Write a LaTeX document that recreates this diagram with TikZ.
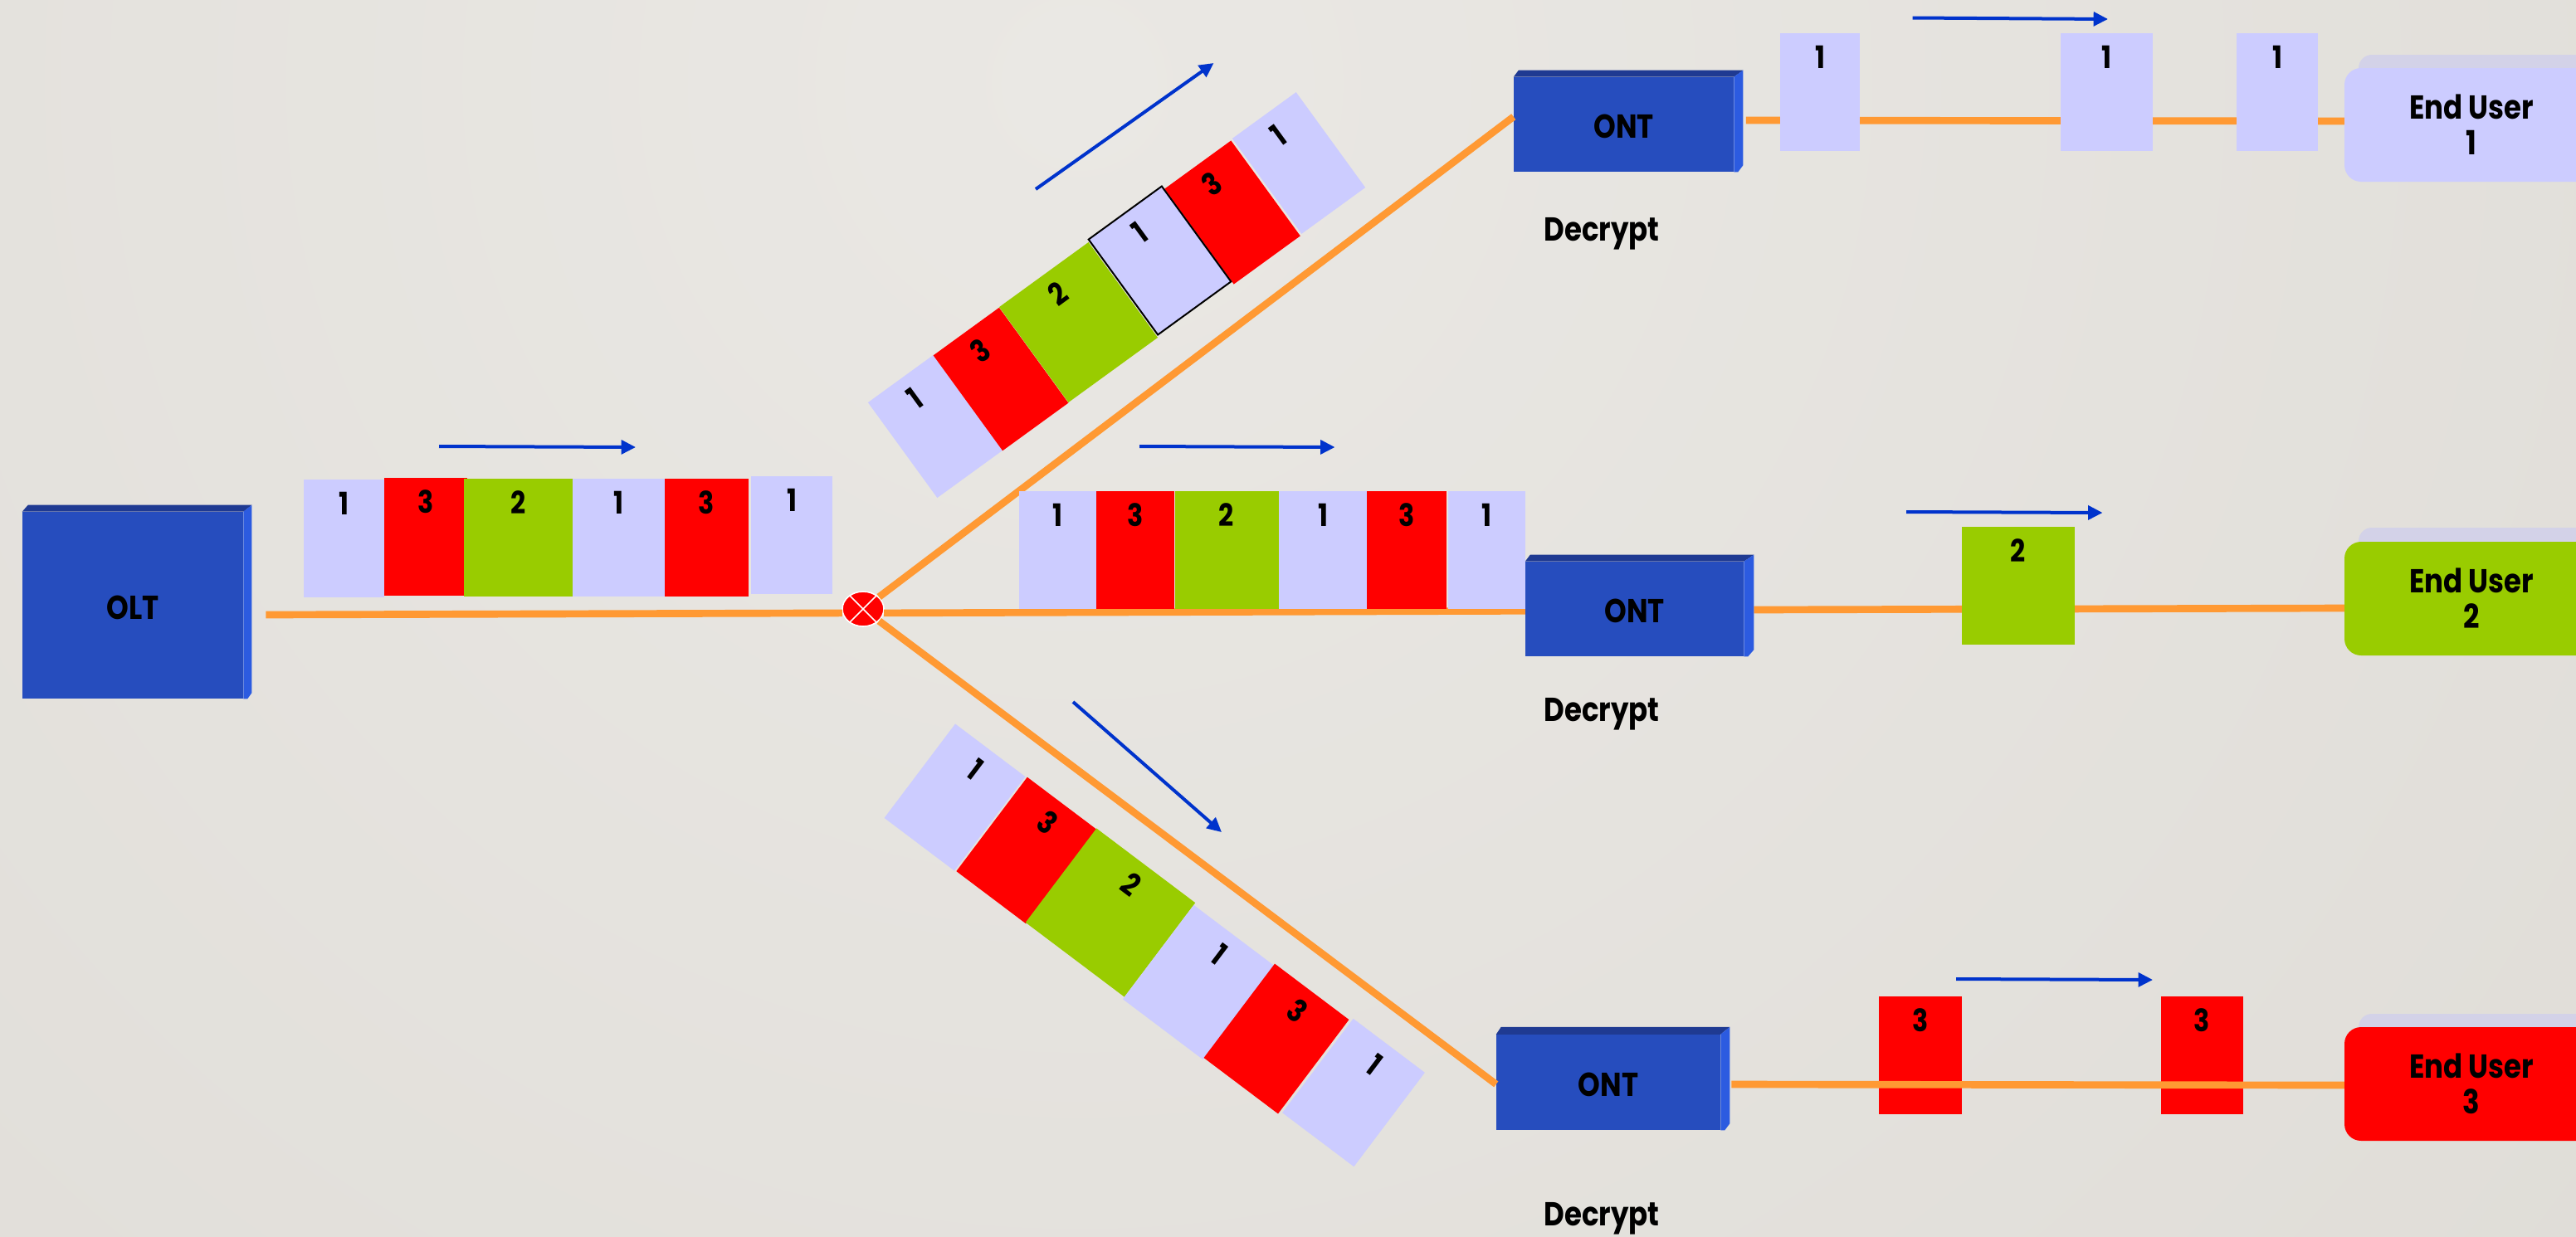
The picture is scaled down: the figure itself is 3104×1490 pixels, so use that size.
\documentclass[tikz,border=0pt]{standalone}
\usepackage{fontspec}
\setmainfont{Poppins}[FakeStretch=0.85]
\usetikzlibrary{arrows.meta,shapes.geometric}

\definecolor{bgin}{RGB}{234,232,228}
\definecolor{bgout}{RGB}{219,216,210}
\definecolor{pktlilac}{RGB}{204,204,255}
\definecolor{pktred}{RGB}{255,0,0}
\definecolor{pktgreen}{RGB}{153,204,0}
\definecolor{fibreorange}{RGB}{255,153,51}
\definecolor{dirblue}{RGB}{0,51,204}
\definecolor{boxfront}{RGB}{38,77,190}
\definecolor{boxtop}{RGB}{31,58,146}
\definecolor{boxside}{RGB}{44,91,224}
\definecolor{eutab}{RGB}{211,210,232}

\tikzset{
  pkt/.style={rectangle,inner sep=0pt,text height=32pt,text depth=74.5pt,font=\fontsize{28pt}{30pt}\selectfont\bfseries},
  pktl/.style={pkt,fill=pktlilac},
  pktr/.style={pkt,fill=pktred},
  pktg/.style={pkt,fill=pktgreen},
  netbox/.style={rectangle,inner sep=0pt,fill=boxfront,text height=25pt,text depth=0pt,font=\fontsize{30pt}{32pt}\selectfont\bfseries},
  facetop/.style={fill=boxtop},
  faceside/.style={fill=boxside},
  enduser/.style={rectangle,rounded corners=15pt,inner sep=0pt,minimum width=229.5pt,minimum height=102.75pt,align=center,font=\fontsize{30pt}{32.25pt}\selectfont\bfseries},
  capt/.style={inner sep=0pt,font=\fontsize{30pt}{32pt}\selectfont\bfseries},
  fibre/.style={draw=fibreorange,line width=6.5pt},
  dirarrow/.style={draw=dirblue,line width=3pt,-{Triangle[length=13pt,width=12.5pt]}},
}

\begin{document}
\begin{tikzpicture}[x=0.75pt,y=0.75pt,yscale=-1,xscale=1]
\useasboundingbox (0,0) rectangle (3104,1490);

%Background
\begin{scope}
\clip (0,0) rectangle (3104,1490);
\shade[inner color=bgin,outer color=bgout] (1300,100) circle (3400);
\end{scope}

%Shape: Boxes
\node (olt) at (160,729.5) [netbox,minimum width=199.5pt,minimum height=168.75pt] {OLT};
\node (ont1) at (1956.5,150) [netbox,minimum width=198.75pt,minimum height=85.5pt] {ONT};
\node (ont2) at (1969.5,734) [netbox,minimum width=197.25pt,minimum height=85.5pt] {ONT};
\node (ont3) at (1938,1304.5) [netbox,minimum width=202.5pt,minimum height=86.25pt] {ONT};
\node (split) at (1040,734) [ellipse,fill=pktred,draw=white,line width=1.2pt,inner sep=0pt,minimum width=37.5pt,minimum height=31.5pt] {};

%Shape: End users
\fill[eutab,rounded corners=12pt] (2842,66) rectangle (3200,130);
\fill[eutab,rounded corners=12pt] (2842,636) rectangle (3200,700);
\fill[eutab,rounded corners=12pt] (2842,1222) rectangle (3200,1280);
\node (eu1) at (2978,150.5) [enduser,fill=pktlilac] {End User\\1};
\node (eu2) at (2978,721.5) [enduser,fill=pktgreen] {End User\\2};
\node (eu3) at (2978,1306.5) [enduser,fill=pktred] {End User\\3};

%Straight Lines
\draw[fibre] ([shift={(27,11.5)}]olt.east) -- (split.191);
\draw[fibre] (split) -- (ont1.176);
\draw[fibre] (split.-11) -- (ont2.181);
\draw[fibre] (split) -- (ont3.181);
\draw[fibre] ([shift={(14.5,-5)}]ont1.east) -- ([shift={(0,-4.5)}]eu1.west);
\draw[fibre] ([shift={(12,1)}]ont2.east) -- ([shift={(0,11.5)}]eu2.west);

%Shape: Box faces
\fill[facetop] (olt.north west) -- ++(7,-8) -- ([shift={(10,-8)}]olt.north east) -- (olt.north east) -- cycle;
\fill[faceside] (olt.north east) -- ++(10,-8) -- ([shift={(10,-7)}]olt.south east) -- ([shift={(5,0)}]olt.south east) -- (olt.south east) -- cycle;
\fill[facetop] (ont1.north west) -- ++(6,-8) -- ([shift={(11,-8)}]ont1.north east) -- (ont1.north east) -- cycle;
\fill[faceside] (ont1.north east) -- ++(11,-8) -- ([shift={(11,-8)}]ont1.south east) -- ([shift={(5,0)}]ont1.south east) -- (ont1.south east) -- cycle;
\fill[facetop] (ont2.north west) -- ++(6,-8) -- ([shift={(12,-8)}]ont2.north east) -- (ont2.north east) -- cycle;
\fill[faceside] (ont2.north east) -- ++(12,-8) -- ([shift={(12,-8)}]ont2.south east) -- ([shift={(5,0)}]ont2.south east) -- (ont2.south east) -- cycle;
\fill[facetop] (ont3.north west) -- ++(6,-9) -- ([shift={(11,-9)}]ont3.north east) -- (ont3.north east) -- cycle;
\fill[faceside] (ont3.north east) -- ++(11,-9) -- ([shift={(11,-8)}]ont3.south east) -- ([shift={(5,0)}]ont3.south east) -- (ont3.south east) -- cycle;

% Packets OLT to splitter
\node (pa1) at (414.5,649) [pktl,minimum width=72.75pt] {1};
\node (pa2) at (513,647) [pktr,minimum width=75pt] {3};
\node (pa3) at (624.75,648) [pktg,minimum width=98.6pt] {2};
\node (pa4) at (745.75,648) [pktl,minimum width=82.9pt] {1};
\node (pa5) at (851.5,648) [pktr,minimum width=75.75pt] {3};
\node (pa6) at (954,645) [pktl,minimum width=73.5pt] {1};

% Packets upper branch
\node (pb1) at (1127,514) [pktl,rotate=36,minimum width=73pt] {1};
\node (pb2) at (1206,457) [pktr,rotate=36,minimum width=73.5pt] {3};
\node (pb3) at (1299.5,388.5) [pktg,rotate=36,minimum width=99.75pt] {2};
\node (pb5) at (1485,256) [pktr,rotate=36,minimum width=74.25pt] {3};
\node (pb6) at (1565,196.5) [pktl,rotate=36,minimum width=71.25pt] {1};
\node (pb4) at (1397.5,314) [pktl,draw=black,line width=1.5pt,rotate=36,minimum width=81.75pt] {1};

% Packets middle branch
\node (pc1) at (1274.5,663) [pktl,minimum width=69.75pt] {1};
\node (pc2) at (1368,663) [pktr,minimum width=71pt] {3};
\node (pc3) at (1478,663) [pktg,minimum width=93.75pt] {2};
\node (pc4) at (1594,663) [pktl,minimum width=79.8pt] {1};
\node (pc5) at (1695,663) [pktr,minimum width=72pt] {3};
\node (pc6) at (1791.5,663) [pktl,minimum width=69.75pt] {1};

% Packets lower branch
\node (pd1) at (1150.5,961) [pktl,rotate=-37,minimum width=79.3pt] {1};
\node (pd2) at (1237,1025) [pktr,rotate=-37,minimum width=78.75pt] {3};
\node (pd3) at (1338,1100) [pktg,rotate=-37,minimum width=111.75pt] {2};
\node (pd4) at (1444,1184) [pktl,rotate=-37,minimum width=90.75pt] {1};
\node (pd5) at (1538,1252) [pktr,rotate=-37,minimum width=84pt] {3};
\node (pd6) at (1631,1317) [pktl,rotate=-37,minimum width=81pt] {1};

% Packets after the ONTs
\node (pe1) at (2193,111) [pktl,minimum width=72pt] {1};
\node (pe2) at (2538.5,111) [pktl,minimum width=83.25pt] {1};
\node (pe3) at (2744,111) [pktl,minimum width=73.5pt] {1};
\node (pf1) at (2431.75,706) [pktg,minimum width=101.6pt] {2};
\node (pg1) at (2314,1272) [pktr,minimum width=75pt] {3};
\node (pg2) at (2653.5,1272) [pktr,minimum width=74.25pt] {3};

\draw[fibre] ([shift={(13,2.5)}]ont3.east) -- ([shift={(0,1.5)}]eu3.west);

%Splitter cross
\draw[white,line width=1.2pt] (split.45) -- (split.225);
\draw[white,line width=1.2pt] (split.135) -- (split.-45);

% Text Node
\node (dec1) at (1930,282) [capt] {Decrypt};
\node (dec2) at (1930,861) [capt] {Decrypt};
\node (dec3) at (1930,1469) [capt] {Decrypt};

% Direction arrows
\coordinate (ara) at (529,538);
\coordinate (arb) at (766,539);
\coordinate (brc) at (1248,228);
\coordinate (brd) at (1462.5,76);
\coordinate (cra) at (1373,538);
\coordinate (crb) at (1608.5,539);
\coordinate (dra) at (1293,846);
\coordinate (drb) at (1472,1003);
\coordinate (era) at (2304.5,21.5);
\coordinate (erb) at (2540,23);
\coordinate (fra) at (2297,617);
\coordinate (frb) at (2533.5,618);
\coordinate (gra) at (2357,1180);
\coordinate (grb) at (2594,1181);
\draw[dirarrow] (ara) -- (arb);
\draw[dirarrow] (brc) -- (brd);
\draw[dirarrow] (cra) -- (crb);
\draw[dirarrow] (dra) -- (drb);
\draw[dirarrow] (era) -- (erb);
\draw[dirarrow] (fra) -- (frb);
\draw[dirarrow] (gra) -- (grb);

\end{tikzpicture}
\end{document}
